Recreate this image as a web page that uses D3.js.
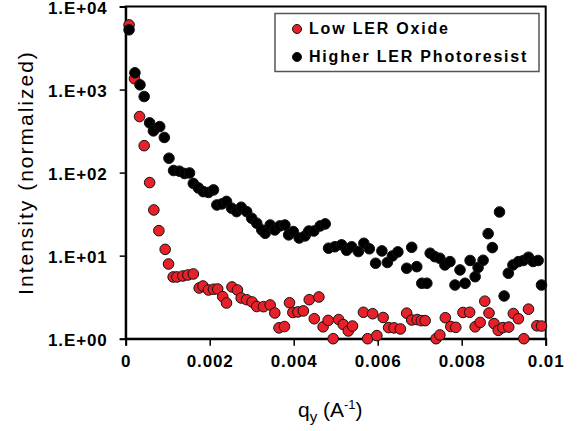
<!DOCTYPE html>
<html>
<head>
<meta charset="utf-8">
<script src="https://cdn.jsdelivr.net/npm/d3@7"></script>
<style>
  body { margin: 0; background: #fff; }
  text { font-family: "Liberation Sans", Arial, sans-serif; }
</style>
</head>
<body>
<div id="chart"></div>
<script>
// Low LER Oxide (red)
var qOxide = [0.00008,0.00021,0.00033,0.00044,0.00057,0.00067,0.00079,0.00094,0.00102,0.00113,
              0.00122,0.00136,0.00148,0.00161,0.00175,0.00184,0.00197,0.00209,0.00219,0.00231,
              0.00240,0.00253,0.00266,0.00275,0.00288,0.00301,0.00312,0.00328,0.00344,0.00355,
              0.00365,0.00378,0.00390,0.00398,0.00410,0.00423,0.00437,0.00449,0.00460,0.00470,
              0.00482,0.00494,0.00507,0.00518,0.00530,0.00540,0.00566,0.00576,0.00588,0.00598,
              0.00613,0.00626,0.00639,0.00654,0.00669,0.00681,0.00694,0.00704,0.00713,0.00739,
              0.00748,0.00761,0.00774,0.00786,0.00803,0.00819,0.00832,0.00844,0.00855,0.00865,
              0.00877,0.00887,0.00898,0.00912,0.00923,0.00935,0.00948,0.00959,0.00979,0.00990];
var iOxide = [6000,1350,473,211,75.8,35.5,20.0,11.9,7.94,5.54,
              5.54,5.69,5.85,6.02,4.08,4.31,3.86,3.94,3.97,3.21,
              2.69,4.20,3.86,3.09,2.95,2.77,2.44,2.43,2.55,2.04,
              1.35,1.40,2.71,2.07,2.10,2.16,2.95,1.74,3.18,1.39,
              1.66,1.00,1.70,1.48,1.24,1.42,2.08,1.00,2.00,1.09,
              1.80,1.36,1.35,1.31,2.03,1.68,1.70,1.65,1.65,1.00,
              1.11,1.79,1.40,1.37,2.07,2.08,1.39,1.57,2.83,2.04,
              1.52,1.26,1.36,1.38,2.01,1.74,1.00,2.27,1.43,1.42];

// Higher LER Photoresist (black)
var qResist = [0.00008,0.00022,0.00034,0.00044,0.00057,0.00066,0.00081,0.00092,0.00103,0.00114,
               0.00128,0.00140,0.00152,0.00161,0.00173,0.00185,0.00197,0.00209,0.00217,0.00229,
               0.00240,0.00252,0.00264,0.00275,0.00288,0.00300,0.00312,0.00324,0.00332,0.00344,
               0.00355,0.00367,0.00379,0.00388,0.00399,0.00413,0.00427,0.00436,0.00448,0.00463,
               0.00475,0.00483,0.00498,0.00514,0.00526,0.00538,0.00554,0.00567,0.00580,0.00595,
               0.00610,0.00623,0.00635,0.00648,0.00669,0.00681,0.00693,0.00705,0.00717,0.00725,
               0.00736,0.00748,0.00760,0.00772,0.00784,0.00796,0.00808,0.00820,0.00832,0.00839,
               0.00851,0.00863,0.00873,0.00890,0.00901,0.00911,0.00922,0.00935,0.00947,0.00959,
               0.00970,0.00982,0.00990];
var iResist = [5240,1590,1140,824,397,318,358,265,149,106,
               104,97.5,99,74.1,65.4,59.0,57.7,61.9,40.8,42.0,
               45.0,37.3,33.9,38.3,33.9,28.2,24.6,20.4,18.6,23.4,
               20.4,22.8,23.4,17.8,19.5,16.3,17.3,19.8,19.8,22.8,
               24.1,12.3,12.8,13.5,11.6,12.8,11.2,14.1,12.1,8.1,
               11.4,8.28,9.92,11.1,7.05,12.6,7.37,4.65,4.65,10.7,
               9.72,9.30,7.73,8.47,4.43,6.73,4.65,8.75,5.58,7.21,
               8.80,18.4,12.5,33.6,3.27,6.14,7.73,8.47,8.75,9.57,
               8.51,8.75,4.43];

var xTicks = [0, 0.002, 0.004, 0.006, 0.008, 0.01];
var xTickLabels = ["0", "0.002", "0.004", "0.006", "0.008", "0.01"];
var yTicks = [1, 10, 100, 1000, 10000];
var yTickLabels = ["1.E+00", "1.E+01", "1.E+02", "1.E+03", "1.E+04"];
var seriesNames = ["Low LER Oxide", "Higher LER Photoresist"];
var seriesColors = ["#e8202a", "#000000"];

var width = 580, height = 431;
var plotLeft = 125.7, plotRight = 545.7, plotTop = 6.5, plotBottom = 338.7;

var svg = d3.select("#chart").append("svg")
    .attr("width", width).attr("height", height);

var x = d3.scaleLinear().domain([0, 0.01]).range([plotLeft, plotRight]);
var y = d3.scaleLog().domain([1, 10000]).range([plotBottom, plotTop]);

// frame
svg.append("rect")
    .attr("x", plotLeft).attr("y", plotTop)
    .attr("width", plotRight - plotLeft).attr("height", plotBottom - plotTop)
    .attr("fill", "none").attr("stroke", "#000").attr("stroke-width", 2);

var xAxis = svg.append("g")
    .attr("transform", "translate(0," + plotBottom + ")")
    .call(d3.axisBottom(x).tickValues(xTicks).tickSize(7).tickPadding(9)
          .tickFormat(function(d, i) { return xTickLabels[i]; }));
var yAxis = svg.append("g")
    .attr("transform", "translate(" + plotLeft + ",0)")
    .call(d3.axisLeft(y).tickValues(yTicks).tickSize(6).tickPadding(12)
          .tickFormat(function(d, i) { return yTickLabels[i]; }));

[xAxis, yAxis].forEach(function(a) {
    a.select(".domain").attr("stroke-width", 2);
    a.selectAll(".tick line").attr("stroke-width", 1.5);
    a.selectAll(".tick text")
        .style("font-family", "'Liberation Sans', Arial, sans-serif")
        .style("font-size", "17px").style("font-weight", "bold")
        .style("letter-spacing", "0.9px").attr("fill", "#000");
});
yAxis.selectAll(".tick text").attr("dy", "0.42em");

// points
var series = [
    qOxide.map(function(q, i) { return [q, iOxide[i]]; }),
    qResist.map(function(q, i) { return [q, iResist[i]]; })
];
series.forEach(function(pts, s) {
    svg.append("g").selectAll("circle").data(pts).enter().append("circle")
        .attr("cx", function(d) { return x(d[0]); })
        .attr("cy", function(d) { return y(d[1]); })
        .attr("r", 5.3)
        .attr("fill", seriesColors[s])
        .attr("stroke", "#111").attr("stroke-width", 1);
});

// legend
var lg = svg.append("g");
lg.append("rect").attr("x", 275).attr("y", 13.5).attr("width", 264).attr("height", 58)
    .attr("fill", "#fff").attr("stroke", "#555").attr("stroke-width", 1.5);
seriesNames.forEach(function(name, i) {
    var cy = 29 + i * 28;
    lg.append("circle").attr("cx", 297).attr("cy", cy).attr("r", 4.5)
        .attr("fill", seriesColors[i]).attr("stroke", "#111").attr("stroke-width", 1);
    lg.append("text").attr("x", 309).attr("y", cy + 4.5)
        .style("font-size", "16px").style("font-weight", "bold")
        .style("letter-spacing", "1.8px")
        .text(name);
});

// axis titles
svg.append("text")
    .attr("transform", "translate(33,172.5) rotate(-90)")
    .attr("text-anchor", "middle")
    .style("font-size", "21px").style("letter-spacing", "2px")
    .text("Intensity (normalized)");

var xt = svg.append("text").attr("x", 298).attr("y", 417)
    .style("font-size", "21px");
xt.append("tspan").text("q");
xt.append("tspan").attr("dy", 5).style("font-size", "15px").text("y");
xt.append("tspan").attr("dy", -5).text(" (A");
xt.append("tspan").attr("dy", -8).style("font-size", "13px").text("-1");
xt.append("tspan").attr("dy", 8).text(")");
</script>
</body>
</html>
